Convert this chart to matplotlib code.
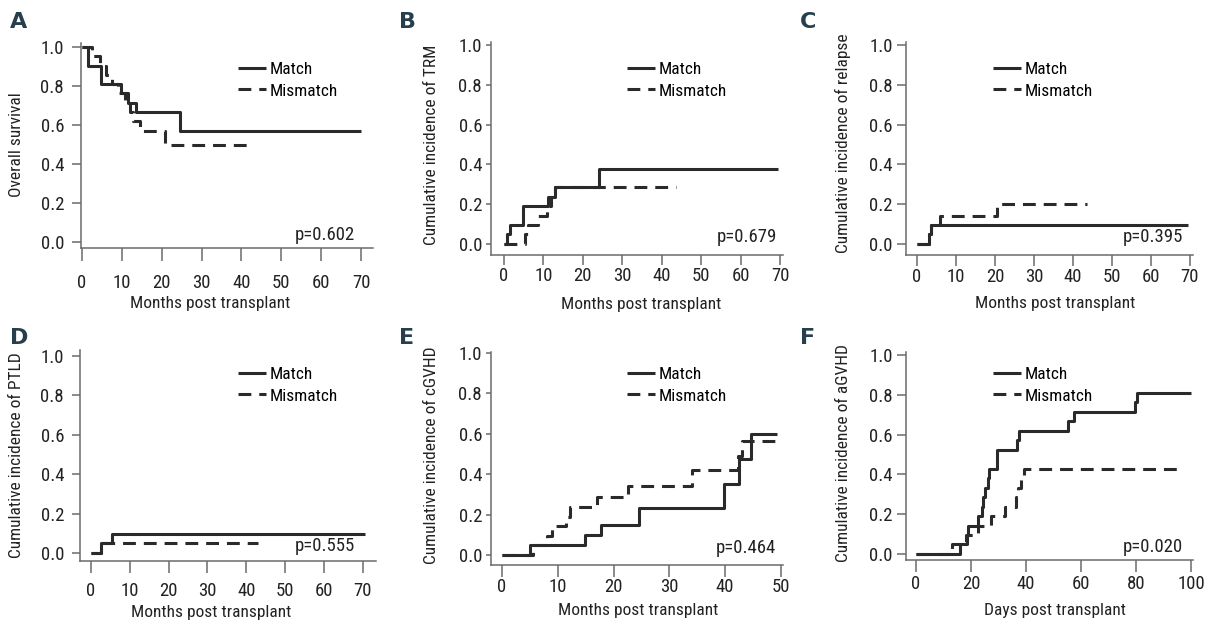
import matplotlib
matplotlib.use('Agg')
import matplotlib.pyplot as plt
from matplotlib import font_manager

# figure size in pixels
W, H = 1208, 624

# pick a narrow font if we have one
names = {f.name for f in font_manager.fontManager.ttflist}
FONT = 'DejaVu Sans'
for cand in ['Liberation Sans Narrow', 'Roboto Condensed', 'Open Sans Condensed', 'DejaVu Sans']:
    if cand in names:
        FONT = cand
        break
plt.rcParams['font.family'] = [FONT, 'DejaVu Sans']

# ---- data (time, step value) ----
# A: overall survival
A_match_t = [0, 1.5, 4.7, 9.7, 11.6, 13.5, 24.5, 70]
A_match_v = [1.0, 0.905, 0.81, 0.762, 0.714, 0.667, 0.571, 0.571]
A_mis_t = [0, 2.5, 4.5, 6, 7.5, 9, 10.8, 12, 12.8, 14.5, 20.8, 42.5]
A_mis_v = [1.0, 0.952, 0.905, 0.857, 0.81, 0.762, 0.714, 0.667, 0.619, 0.571, 0.50, 0.50]

# B: TRM
B_match_t = [0, 0.7, 1.5, 4.9, 11.2, 12.9, 24.1, 69.6]
B_match_v = [0, 0.048, 0.095, 0.19, 0.238, 0.286, 0.375, 0.375]
B_mis_t = [0, 5.2, 6.0, 8.5, 10.8, 12.0, 13.0, 43.5]
B_mis_v = [0, 0.048, 0.095, 0.143, 0.19, 0.238, 0.286, 0.286]

# C: relapse
C_match_t = [0, 3.0, 3.7, 69.5]
C_match_v = [0, 0.048, 0.095, 0.095]
C_mis_t = [0, 3.0, 3.7, 5.9, 20.6, 43.5]
C_mis_v = [0, 0.048, 0.095, 0.143, 0.20, 0.20]

# D: PTLD
D_match_t = [0, 2.7, 5.3, 70.5]
D_match_v = [0, 0.048, 0.095, 0.095]
D_mis_t = [0, 2.7, 43]
D_mis_v = [0, 0.048, 0.048]

# E: cGVHD
E_match_t = [0, 5.0, 14.8, 17.8, 24.5, 39.8, 42.4, 44.6, 49.3]
E_match_v = [0, 0.05, 0.10, 0.15, 0.232, 0.35, 0.476, 0.597, 0.597]
E_mis_t = [0, 5.5, 8, 9, 11.5, 12.2, 17, 22.5, 34, 42.3, 43, 50]
E_mis_v = [0, 0.048, 0.095, 0.143, 0.19, 0.238, 0.286, 0.343, 0.42, 0.49, 0.564, 0.564]

# F: aGVHD (days)
F_match_t = [0, 16, 18.7, 19, 22.5, 23.9, 24.5, 25.2, 26, 26.6, 29.3, 36.6, 37.6, 55.4, 57.5, 79.6, 80.5, 100]
F_match_v = [0, 0.048, 0.095, 0.143, 0.19, 0.238, 0.286, 0.333, 0.381, 0.429, 0.524, 0.571, 0.619,
             0.667, 0.714, 0.762, 0.81, 0.81]
F_mis_t = [0, 13, 18, 22.5, 27.2, 32.5, 36.4, 37.2, 38.2, 39.2, 96.6]
F_mis_v = [0, 0.048, 0.095, 0.143, 0.19, 0.238, 0.286, 0.333, 0.381, 0.429, 0.429]

letters = ['A', 'B', 'C', 'D', 'E', 'F']
ylabels = ['Overall survival', 'Cumulative incidence of TRM', 'Cumulative incidence of relapse',
           'Cumulative incidence of PTLD', 'Cumulative incidence of cGVHD', 'Cumulative incidence of aGVHD']
xlabels = ['Months post transplant'] * 5 + ['Days post transplant']
pvals = ['p=0.602', 'p=0.679', 'p=0.395', 'p=0.555', 'p=0.464', 'p=0.020']
series = [(A_match_t, A_match_v, A_mis_t, A_mis_v),
          (B_match_t, B_match_v, B_mis_t, B_mis_v),
          (C_match_t, C_match_v, C_mis_t, C_mis_v),
          (D_match_t, D_match_v, D_mis_t, D_mis_v),
          (E_match_t, E_match_v, E_mis_t, E_mis_v),
          (F_match_t, F_match_v, F_mis_t, F_mis_v)]
xtick_sets = [range(0, 71, 10)] * 4 + [range(0, 51, 10), range(0, 101, 20)]
yticks = [0.0, 0.2, 0.4, 0.6, 0.8, 1.0]

# layout per panel: axes box in px (left, top, right, bottom), limits, tick geometry (px)
boxes = [(81, 43, 373, 248), (491, 42, 783, 255), (906, 42, 1193, 255),
         (80, 350, 376, 561), (491, 352, 783, 565), (906, 352, 1193, 560)]
xlims = [(-0.25, 73.0), (-3.3, 70.76), (-2.82, 70.77), (-2.83, 73.4), (-1.96, 50.36), (-3.64, 100.7)]
ylims = [(-0.031, 1.021), (-0.055, 1.015), (-0.055, 1.015), (-0.041, 1.03), (-0.05, 1.005), (-0.03, 1.015)]
ytick_len = [9, 5, 9, 8, 5, 9]
ytick_pad = [8, 4, 4, 8, 4, 4]
xtick_len = [13, 10, 11, 12, 12, 12]
xtick_pad = [13, 2, 2, 9, 1, 3]
p_x = [68.5, 69.2, 68.2, 67.9, 49.1, 97.1]
letter_pos = [(10, 12), (399, 12), (800, 12), (10, 328), (399, 328), (800, 328)]
xlabel_pos = [(210, 303), (641, 304), (1055, 303), (211, 612), (638, 611), (1055, 611)]
ylabel_pos = [(17, 145), (432, 145), (843, 143), (17, 455), (432, 455), (843, 453)]
legend_pos = [(238, 62), (627, 62), (993, 62), (238, 367), (627, 367), (993, 367)]

LINE = '#2a2a2a'
AXC = '#6b6b6b'
FS_TICK = 13.5
FS_LAB = 12.5
FS_LEG = 12.5
PX = 0.72  # points per pixel at dpi 100

fig = plt.figure(figsize=(W / 100, H / 100), dpi=100)

for i in range(6):
    l, t, r, b = boxes[i]
    ax = fig.add_axes([l / W, 1 - b / H, (r - l) / W, (b - t) / H])
    ax.patch.set_alpha(0)
    mt, mv, st, sv = series[i]
    ax.step(mt, mv, where='post', color=LINE, lw=2.2, label='Match', solid_capstyle='butt')
    ax.step(st, sv, where='post', color=LINE, lw=2.2, ls=(0, (4.2, 2.6)), label='Mismatch',
            dash_capstyle='butt')
    ax.set_xlim(*xlims[i])
    ax.set_ylim(*ylims[i])
    ax.set_xticks(list(xtick_sets[i]))
    ax.set_yticks(yticks)
    ax.set_yticklabels(['%.1f' % v for v in yticks])
    for s in ['top', 'right']:
        ax.spines[s].set_visible(False)
    for s in ['left', 'bottom']:
        ax.spines[s].set_color(AXC)
        ax.spines[s].set_linewidth(1.1)
    ax.tick_params(axis='y', length=ytick_len[i] * PX, pad=ytick_pad[i] * PX, width=1.1,
                   color=AXC, labelsize=FS_TICK, labelcolor='#222222')
    ax.tick_params(axis='x', length=xtick_len[i] * PX, pad=xtick_pad[i] * PX, width=1.1,
                   color=AXC, labelsize=FS_TICK, labelcolor='#222222')

    ax.text(p_x[i], 0.01, pvals[i], ha='right', va='baseline', fontsize=FS_TICK, color='#222222')

    lx, ly = legend_pos[i]
    ax.legend(loc='upper left', bbox_to_anchor=(lx / W, 1 - ly / H), bbox_transform=fig.transFigure,
              frameon=False, fontsize=FS_LEG, handlelength=1.6, handletextpad=0.2, borderpad=0,
              borderaxespad=0, labelspacing=0.36)

    fig.text(letter_pos[i][0] / W, 1 - letter_pos[i][1] / H, letters[i], ha='left', va='top',
             fontsize=16, fontweight='bold', color='#263f4c', family='DejaVu Sans')
    fig.text(xlabel_pos[i][0] / W, 1 - xlabel_pos[i][1] / H, xlabels[i], ha='center', va='center',
             fontsize=FS_LAB, color='#222222')
    fig.text(ylabel_pos[i][0] / W, 1 - ylabel_pos[i][1] / H, ylabels[i], ha='center', va='center',
             rotation=90, fontsize=FS_LAB, color='#222222')

fig.savefig('out.png', dpi=100)
